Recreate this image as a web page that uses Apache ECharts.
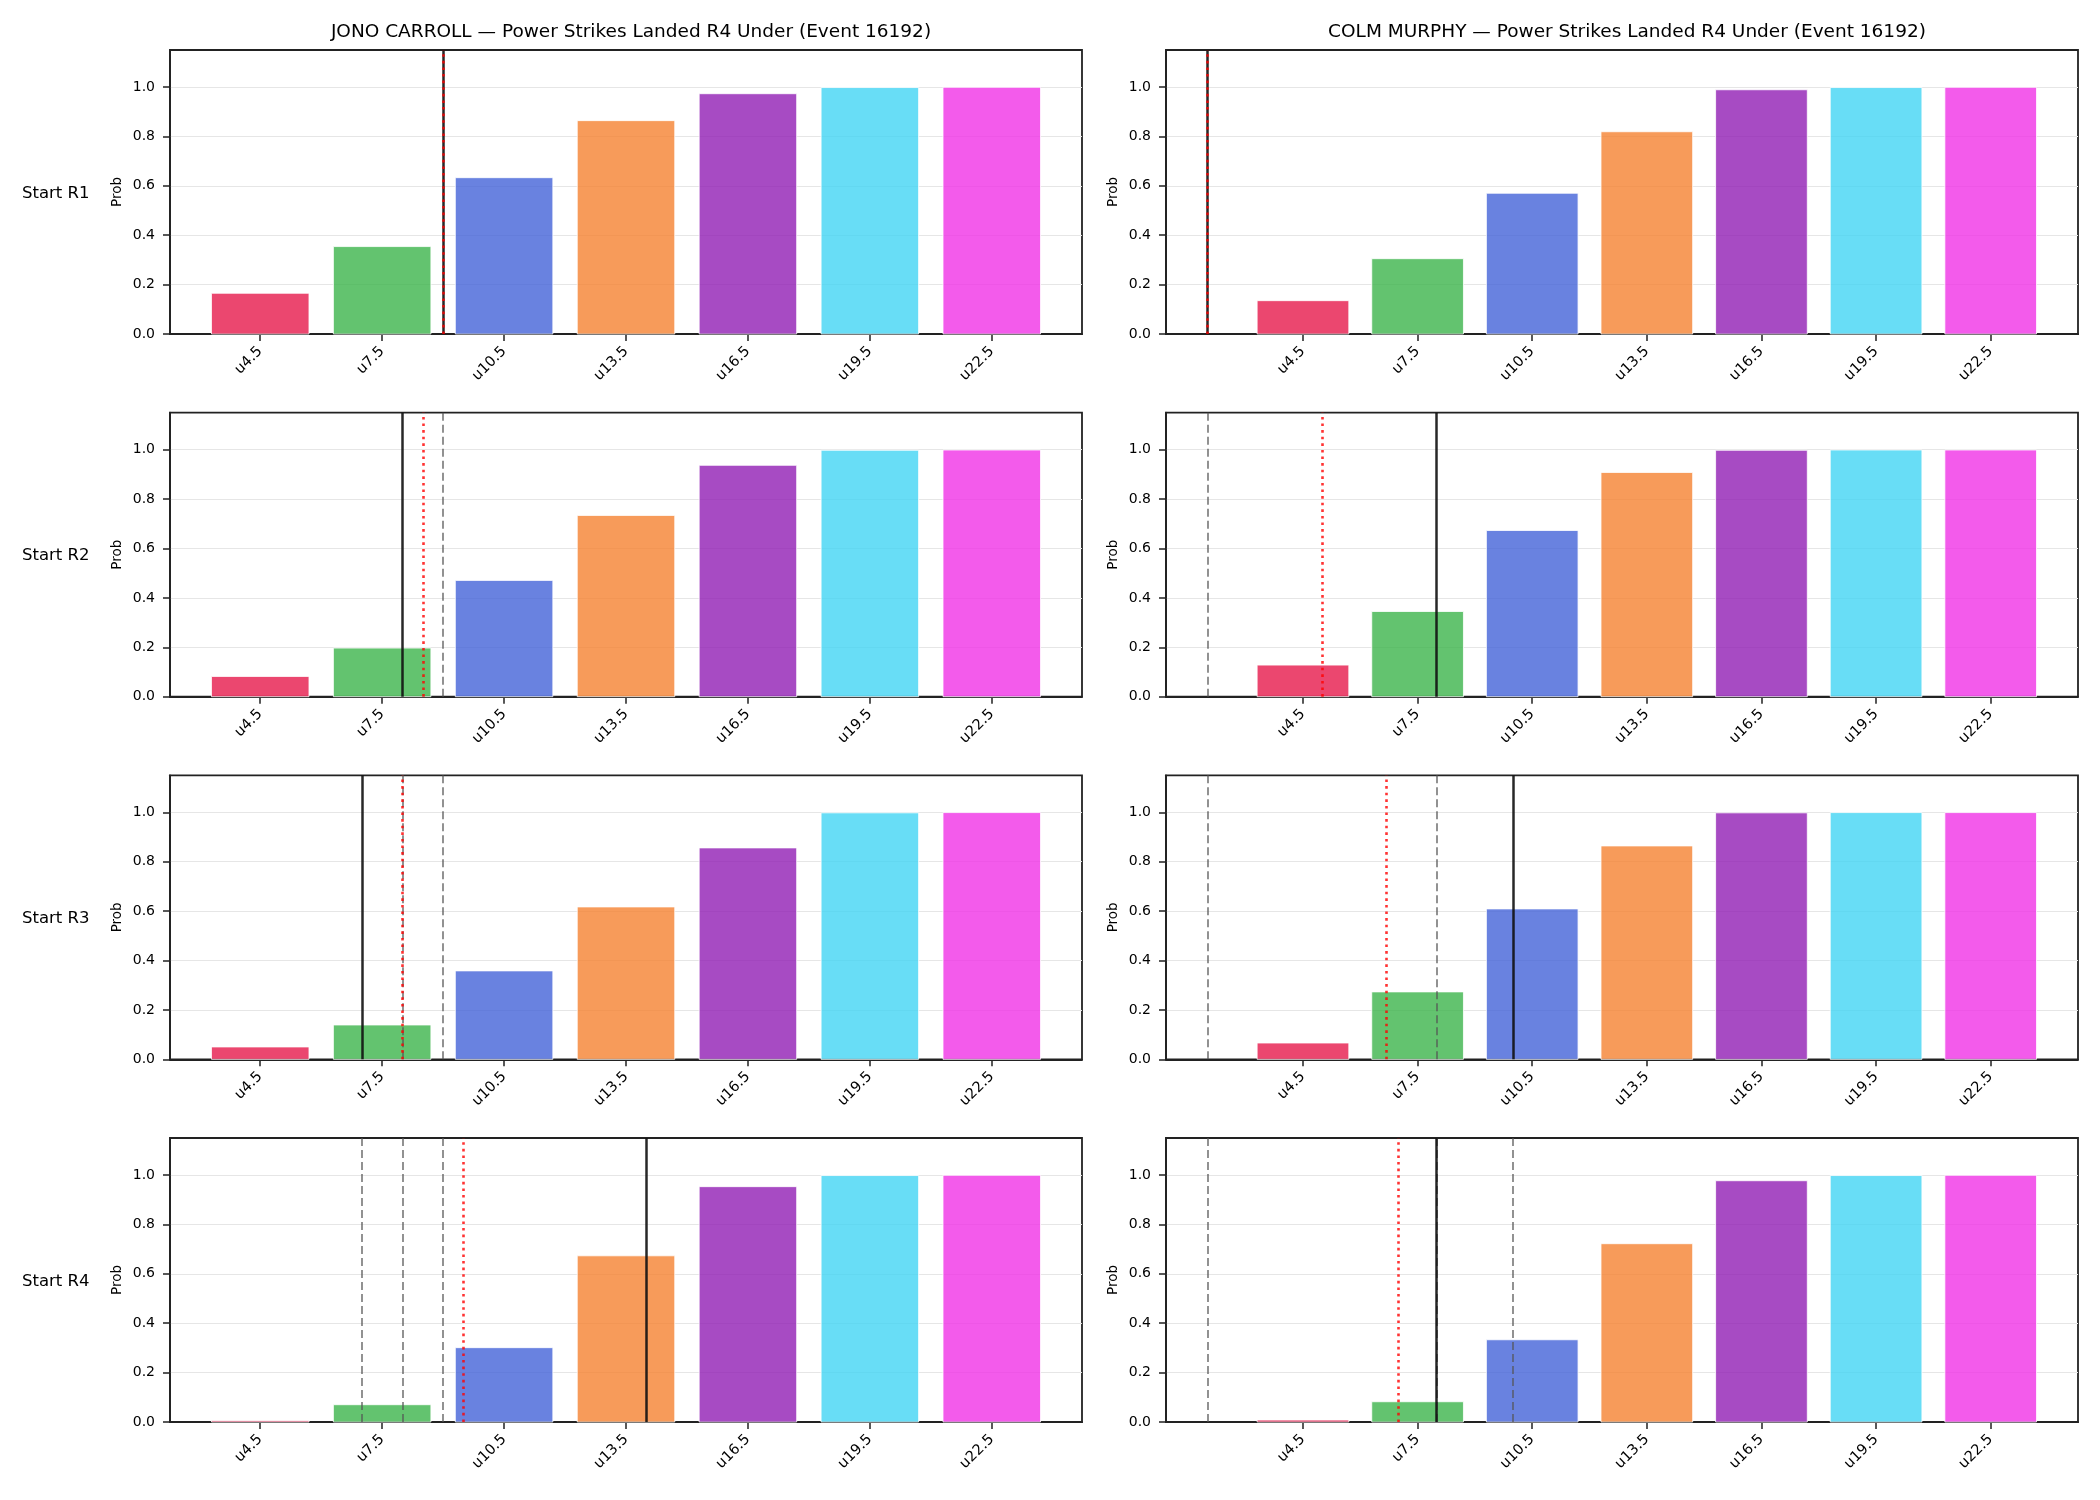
<!DOCTYPE html>
<html>
<head>
<meta charset="utf-8">
<script src="https://cdn.jsdelivr.net/npm/echarts@6/dist/echarts.min.js"></script>
<style>
  html, body { margin: 0; background: #fff; }
  #chart { width: 2100px; height: 1500px; }
</style>
</head>
<body>
<div id="chart"></div>
<script>
// 盘口线（under）及其数值位置
const lineLabels = ['u4.5', 'u7.5', 'u10.5', 'u13.5', 'u16.5', 'u19.5', 'u22.5'];
const lineValues = [4.5, 7.5, 10.5, 13.5, 16.5, 19.5, 22.5];
const barColors = ['#e6194b', '#3cb44b', '#4363d8', '#f58231', '#911eb4', '#42d4f4', '#f032e6'];
const rowLabels = ['Start R1', 'Start R2', 'Start R3', 'Start R4'];
const yTicks = [0, 0.2, 0.4, 0.6, 0.8, 1.0];

const fighters = ['JONO CARROLL', 'COLM MURPHY'];

// 每个回合开始时各盘口 under 概率
const jonoProbs = [
  [0.165, 0.354, 0.633, 0.864, 0.973, 0.998, 0.999],
  [0.082, 0.197, 0.471, 0.734, 0.937, 0.998, 0.999],
  [0.050, 0.139, 0.358, 0.617, 0.856, 0.998, 0.999],
  [0.005, 0.070, 0.301, 0.673, 0.953, 0.998, 0.999]
];
const colmProbs = [
  [0.135, 0.305, 0.570, 0.819, 0.989, 0.998, 0.999],
  [0.128, 0.345, 0.673, 0.908, 0.998, 0.999, 0.999],
  [0.066, 0.273, 0.609, 0.864, 0.998, 0.999, 0.999],
  [0.008, 0.082, 0.333, 0.722, 0.977, 0.998, 0.999]
];

// 竖线：实线=实际，红点线=节奏预测，灰虚线=之前回合的实际值
const jonoActual = [9, 8, 7, 14];
const jonoPace = [9, 8.5, 8, 9.5];
const jonoPrev = [[], [9], [9, 8], [9, 8, 7]];
const colmActual = [2, 8, 10, 8];
const colmPace = [2, 5, 6.67, 7];
const colmPrev = [[], [2], [2, 8], [2, 8, 10]];

const chart = echarts.init(document.getElementById('chart'));
const FONT = 'DejaVu Sans';

const colLeft = [170, 1166];
const colWidth = 912;
const rowTop = [50, 412.7, 775.3, 1138];
const rowHeight = 284;
const barHalf = 1.2; // 0.8 * 3 / 2

const fighterData = [
  { probs: jonoProbs, actual: jonoActual, pace: jonoPace, prev: jonoPrev },
  { probs: colmProbs, actual: colmActual, pace: colmPace, prev: colmPrev }
];

const grids = [], xAxes = [], yAxes = [], series = [], titles = [];

fighters.forEach((name, c) => {
  titles.push({
    text: name + ' — Power Strikes Landed R4 Under (Event 16192)',
    left: colLeft[c] + colWidth / 2, top: 18, textAlign: 'center',
    textStyle: { fontFamily: FONT, fontSize: 18.5, fontWeight: 'normal', color: '#000' }
  });
  const fd = fighterData[c];
  rowLabels.forEach((rl, r) => {
    const idx = grids.length;
    if (c === 0) {
      titles.push({
        text: rl, left: 17, top: rowTop[r] + rowHeight / 2 - 12,
        textStyle: { fontFamily: FONT, fontSize: 16.5, fontWeight: 'normal', color: '#000' }
      });
    }
    const marks = [].concat(fd.prev[r], [fd.actual[r], fd.pace[r]]);
    // matplotlib 风格的自动边距（5%）
    const lo = Math.min(lineValues[0] - barHalf, ...marks);
    const hi = Math.max(lineValues[lineValues.length - 1] + barHalf, ...marks);
    const pad = (hi - lo) * 0.05;

    grids.push({
      left: colLeft[c], top: rowTop[r], width: colWidth, height: rowHeight,
      show: true, borderColor: '#222', borderWidth: 1.8, backgroundColor: 'transparent'
    });
    xAxes.push({
      type: 'value', gridIndex: idx, min: lo - pad, max: hi + pad,
      axisLine: { show: true, lineStyle: { color: '#222', width: 1.8 } },
      axisTick: { show: true, length: 7, lineStyle: { color: '#222', width: 1.5 }, customValues: lineValues },
      axisLabel: {
        customValues: lineValues, rotate: 45, margin: 15,
        formatter: v => lineLabels[lineValues.indexOf(+v)] || '',
        fontFamily: FONT, fontSize: 14.5, color: '#000'
      },
      splitLine: { show: false }
    });
    yAxes.push({
      type: 'value', gridIndex: idx, min: 0, max: 1.15, interval: 0.2,
      name: 'Prob', nameLocation: 'middle', nameGap: 46, nameRotate: 90,
      nameTextStyle: { fontFamily: FONT, fontSize: 13.5, color: '#000' },
      axisLine: { show: true, lineStyle: { color: '#222', width: 1.8 } },
      axisTick: { show: true, length: 7, lineStyle: { color: '#222', width: 1.5 }, customValues: yTicks },
      axisLabel: {
        customValues: yTicks, margin: 15, formatter: v => Number(v).toFixed(1),
        fontFamily: FONT, fontSize: 14, color: '#000'
      },
      splitLine: { show: true, lineStyle: { color: '#e6e6e6', width: 1 } }
    });

    series.push({
      type: 'custom', xAxisIndex: idx, yAxisIndex: idx,
      encode: { x: 0, y: 1 },
      data: lineValues.map((v, i) => [v, fd.probs[r][i]]),
      renderItem: (params, api) => {
        const x = api.value(0), y = api.value(1);
        const p0 = api.coord([x - barHalf, y]);
        const p1 = api.coord([x + barHalf, 0]);
        return {
          type: 'rect',
          shape: { x: p0[0], y: p0[1], width: p1[0] - p0[0], height: p1[1] - p0[1] },
          style: { fill: barColors[params.dataIndex], opacity: 0.8, stroke: '#fff', lineWidth: 1 }
        };
      },
      animation: false, z: 2
    });

    const mlData = [];
    fd.prev[r].forEach(v => mlData.push({
      xAxis: v, lineStyle: { color: '#555', width: 1.6, type: [8, 4], opacity: 0.8 }
    }));
    mlData.push({ xAxis: fd.actual[r], lineStyle: { color: '#111', width: 2.5, type: 'solid', opacity: 0.9 } });
    mlData.push({ xAxis: fd.pace[r], lineStyle: { color: '#ff0000', width: 2.6, type: [2.6, 4], opacity: 0.8 } });

    series.push({
      type: 'line', xAxisIndex: idx, yAxisIndex: idx, data: [],
      markLine: {
        silent: true, symbol: ['none', 'none'], animation: false,
        label: { show: false }, emphasis: { disabled: true },
        data: mlData
      },
      z: 5
    });
  });
});

chart.setOption({
  animation: false,
  backgroundColor: '#fff',
  title: titles,
  grid: grids,
  xAxis: xAxes,
  yAxis: yAxes,
  series: series
});
</script>
</body>
</html>
